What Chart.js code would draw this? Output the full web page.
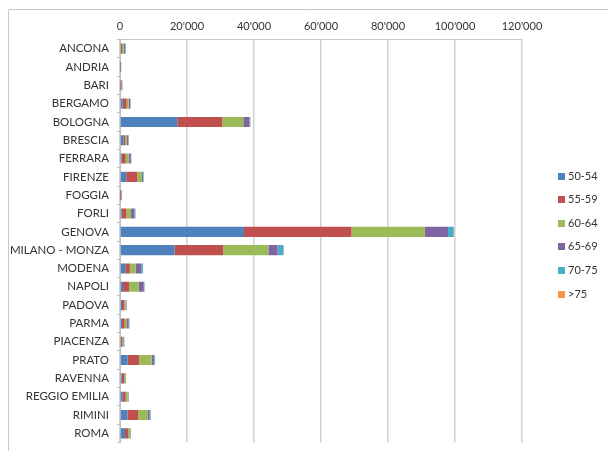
<!DOCTYPE html>
<html>
<head>
<meta charset="utf-8">
<script src="https://cdn.jsdelivr.net/npm/chart.js@4/dist/chart.umd.min.js"></script>
<style>
html,body{margin:0;padding:0;background:#fff;}
#wrap{width:608px;height:451px;position:relative;}
</style>
</head>
<body>
<div id="wrap"><canvas id="c" width="608" height="451"></canvas></div>
<script>
const categories = ["ANCONA","ANDRIA","BARI","BERGAMO","BOLOGNA","BRESCIA","FERRARA","FIRENZE","FOGGIA","FORLI","GENOVA","MILANO - MONZA","MODENA","NAPOLI","PADOVA","PARMA","PIACENZA","PRATO","RAVENNA","REGGIO EMILIA","RIMINI","ROMA"];
const seriesNames = ["50-54","55-59","60-64","65-69","70-75",">75"];
const s50_54 = [300, 50, 150, 800, 17100, 1000, 500, 1850, 100, 500, 37000, 16300, 1550, 900, 600, 600, 300, 2300, 500, 800, 2200, 1500];
const s55_59 = [300, 80, 300, 1200, 13400, 500, 1200, 3350, 300, 1400, 32100, 14500, 1400, 1800, 700, 800, 400, 3450, 700, 900, 3200, 1000];
const s60_64 = [500, 150, 200, 600, 6300, 500, 900, 1350, 150, 1400, 21900, 13500, 1700, 2900, 400, 700, 300, 3700, 400, 600, 2800, 500];
const s65_69 = [400, 50, 80, 400, 1800, 500, 600, 300, 50, 1000, 6900, 2700, 1700, 1500, 200, 500, 200, 650, 150, 200, 650, 150];
const s70_75 = [200, 20, 20, 150, 250, 100, 200, 200, 20, 300, 1700, 1800, 500, 200, 100, 200, 100, 300, 50, 100, 300, 50];
const s75 = [30, 0, 0, 30, 100, 20, 30, 30, 0, 30, 100, 100, 50, 30, 10, 20, 10, 30, 10, 10, 30, 10];
const xTicks = [0, 20000, 40000, 60000, 80000, 100000, 120000];

const colors = ["#4F81BD","#C0504D","#9BBB59","#8064A2","#4BACC6","#F79646"];
const allSeries = [s50_54, s55_59, s60_64, s65_69, s70_75, s75];

const FONT = "Lato, 'Open Sans', sans-serif";

const frame = {
  id: 'frame',
  beforeDraw(chart) {
    const ctx = chart.ctx;
    ctx.save();
    ctx.strokeStyle = '#c8c8c8';
    ctx.lineWidth = 1;
    ctx.beginPath();
    ctx.moveTo(8.5, 451);
    ctx.lineTo(8.5, 9.5);
    ctx.lineTo(608, 9.5);
    ctx.stroke();
    ctx.restore();
  },
  afterDraw(chart) {
    const ctx = chart.ctx;
    ctx.save();
    ctx.font = "11px " + FONT;
    ctx.textBaseline = 'middle';
    ctx.textAlign = 'left';
    chart.data.datasets.forEach((ds, i) => {
      const y = 176 + i * 23.6;
      ctx.fillStyle = ds.backgroundColor;
      ctx.fillRect(558, Math.round(y - 3.5), 7, 7);
      ctx.fillStyle = '#333';
      ctx.fillText(ds.label, 568, y);
    });
    ctx.restore();
  }
};

new Chart(document.getElementById('c'), {
  type: 'bar',
  data: {
    labels: categories,
    datasets: seriesNames.map((n, i) => ({
      label: n,
      data: allSeries[i],
      backgroundColor: colors[i],
      borderWidth: 0,
      categoryPercentage: 0.55,
      barPercentage: 1
    }))
  },
  options: {
    indexAxis: 'y',
    responsive: false,
    animation: false,
    layout: { padding: { left: 0, right: 86, top: 12, bottom: 8.5 } },
    plugins: { legend: { display: false }, tooltip: { enabled: false } },
    scales: {
      x: {
        position: 'top',
        stacked: true,
        min: 0, max: 120000,
        afterBuildTicks(scale) { scale.ticks = xTicks.map(v => ({ value: v })); },
        afterFit(scale) { scale.height = 27.5; },
        ticks: {
          color: '#333',
          font: { size: 11, family: FONT },
          padding: 6.5,
          maxRotation: 0,
          callback: v => String(v).replace(/\B(?=(\d{3})+(?!\d))/g, "'")
        },
        grid: { color: '#d0d0d0', lineWidth: 1.5, drawTicks: false },
        border: { color: '#c8c8c8', width: 1 }
      },
      y: {
        stacked: true,
        afterFit(scale) { scale.width = 120; scale.paddingTop = 0; scale.paddingBottom = 0; },
        ticks: {
          color: '#333',
          font: { size: 11.5, family: FONT },
          padding: 8,
          autoSkip: false
        },
        grid: { drawOnChartArea: false, drawTicks: true, tickLength: 3, offset: true, color: '#c0c0c0' },
        border: { color: '#c0c0c0', width: 1 }
      }
    }
  },
  plugins: [frame]
});
</script>
</body>
</html>
